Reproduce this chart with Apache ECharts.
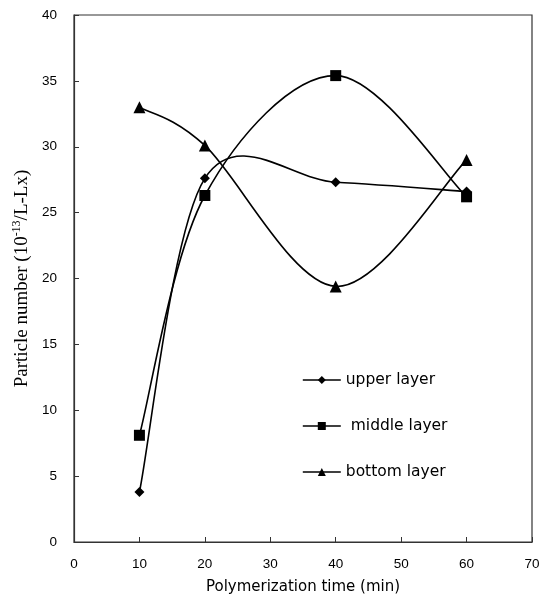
<!DOCTYPE html>
<html>
<head>
<meta charset="utf-8">
<script src="https://cdn.jsdelivr.net/npm/echarts@6/dist/echarts.min.js"></script>
<style>
  html, body { margin: 0; padding: 0; background: #fff; }
  #chart { width: 542px; height: 596px; }
</style>
</head>
<body>
<div id="chart"></div>
<script>
var times = [10, 20, 40, 60];
var upperLayer = [3.8, 27.6, 27.3, 26.6];
var middleLayer = [8.1, 26.3, 35.4, 26.2];
var bottomLayer = [33.0, 30.1, 19.4, 29.0];

function pairs(vals) {
  return times.map(function (t, i) { return [t, vals[i]]; });
}

// spreadsheet-style smoothed curve: catmull-rom segments in pixel space
function curveSeries(vals) {
  return {
    type: 'custom',
    data: pairs(vals),
    encode: { x: 0, y: 1 },
    z: 1,
    silent: true,
    renderItem: function (params, api) {
      var i = params.dataIndex;
      var n = vals.length;
      if (i >= n - 1) return null;
      var pt = function (k) {
        k = Math.max(0, Math.min(n - 1, k));
        return api.coord([times[k], vals[k]]);
      };
      var p0 = pt(i - 1), p1 = pt(i), p2 = pt(i + 1), p3 = pt(i + 2);
      return {
        type: 'bezierCurve',
        shape: {
          x1: p1[0], y1: p1[1], x2: p2[0], y2: p2[1],
          cpx1: p1[0] + (p2[0] - p0[0]) / 6, cpy1: p1[1] + (p2[1] - p0[1]) / 6,
          cpx2: p2[0] - (p3[0] - p1[0]) / 6, cpy2: p2[1] - (p3[1] - p1[1]) / 6
        },
        style: { stroke: '#000', lineWidth: 1.6, fill: null }
      };
    }
  };
}

function markerSeries(name, vals, symbol, size) {
  return {
    name: name, type: 'line',
    data: pairs(vals),
    symbol: symbol, symbolSize: size,
    z: 3,
    itemStyle: { color: '#000' },
    lineStyle: { color: '#000', width: 1.6, opacity: 0 }
  };
}

var chart = echarts.init(document.getElementById('chart'));

chart.setOption({
  animation: false,
  grid: {
    left: 74, right: 10, top: 15, bottom: 54,
    outerBoundsMode: 'none',
    show: true, borderColor: '#333', borderWidth: 1.2
  },
  legend: {
    orient: 'vertical',
    left: 297, top: 367,
    itemGap: 30,
    itemWidth: 38, itemHeight: 10,
    lineStyle: { color: '#000', width: 1.6, opacity: 1 },
    textStyle: { color: '#000', fontSize: 15.5, fontFamily: 'DejaVu Sans' },
    data: ['upper layer', ' middle layer', 'bottom layer']
  },
  xAxis: {
    type: 'value', min: 0, max: 70, interval: 10,
    name: 'Polymerization time (min)',
    nameLocation: 'middle', nameGap: 38,
    nameTextStyle: { color: '#000', fontSize: 15, fontFamily: 'DejaVu Sans' },
    axisLine: { lineStyle: { color: '#333', width: 1.2 } },
    axisTick: { inside: true, length: 5, lineStyle: { color: '#333' } },
    axisLabel: { color: '#000', fontSize: 13.5, margin: 15, fontFamily: 'Liberation Sans' },
    splitLine: { show: false }
  },
  yAxis: {
    type: 'value', min: 0, max: 40, interval: 5,
    name: 'Particle number (10{sup|-13}/L-Lx)',
    nameLocation: 'middle', nameGap: 33,
    nameTextStyle: {
      color: '#000', fontSize: 19, fontFamily: 'Liberation Serif',
      rich: { sup: { fontSize: 12, verticalAlign: 'top', padding: [0, 0, 9, 0], fontFamily: 'Liberation Serif', color: '#000' } }
    },
    axisLine: { lineStyle: { color: '#333', width: 1.2 } },
    axisTick: { inside: true, length: 5, lineStyle: { color: '#333' } },
    axisLabel: { color: '#000', fontSize: 13.5, margin: 17, fontFamily: 'Liberation Sans' },
    splitLine: { show: false }
  },
  series: [
    curveSeries(upperLayer),
    curveSeries(middleLayer),
    curveSeries(bottomLayer),
    markerSeries('upper layer', upperLayer, 'diamond', 10),
    markerSeries(' middle layer', middleLayer, 'rect', 11),
    markerSeries('bottom layer', bottomLayer, 'triangle', 12)
  ]
});
</script>
</body>
</html>
